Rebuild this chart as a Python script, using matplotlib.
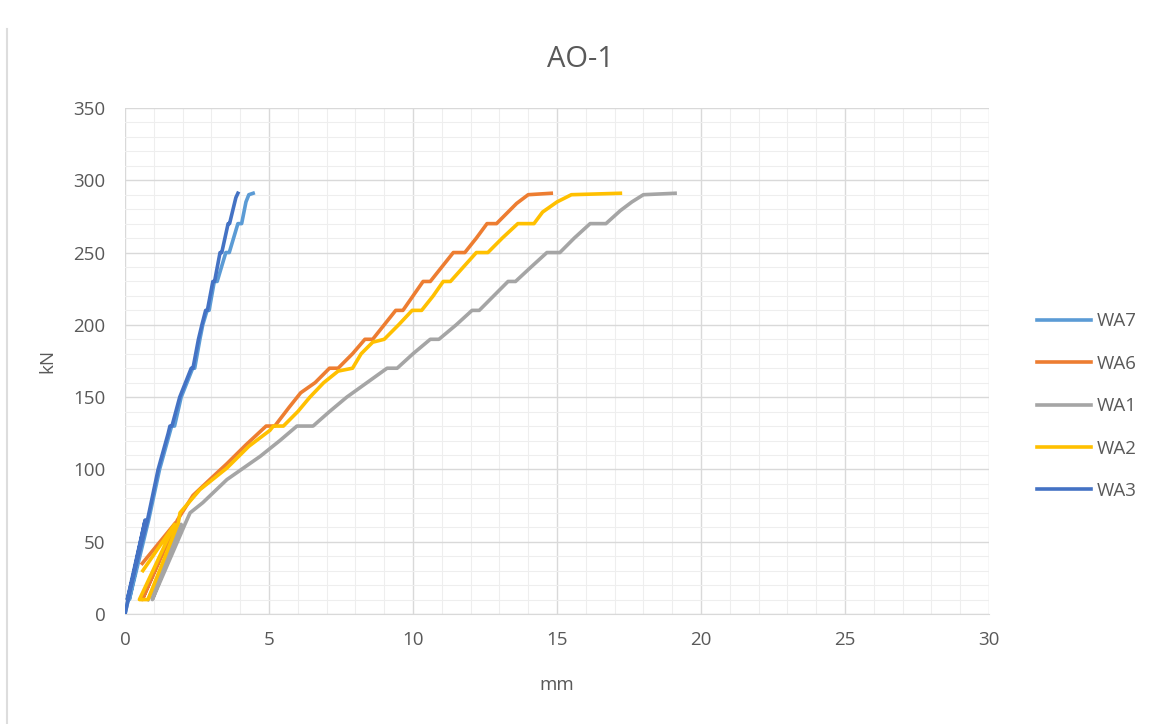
import numpy as np
import matplotlib
matplotlib.use('Agg')
import matplotlib.pyplot as plt
from matplotlib.lines import Line2D

# data (mm, kN)
wa7_x = [0, 0.75, 0.15, 0.82, 1.2, 1.55, 1.62, 1.72, 1.95, 2.35, 2.42, 2.6, 2.7, 2.85, 2.92,
         3.1, 3.2, 3.5, 3.62, 3.92, 4.05, 4.2, 4.3, 4.45]
wa7_y = [0, 65, 10, 65, 100, 125, 130, 130, 150, 170, 170, 190, 200, 210, 210,
         230, 230, 250, 250, 270, 270, 285, 290, 291]

wa6_x = [0.6, 1.75, 0.6, 1.82, 2.36, 3.0, 3.54, 4.2, 4.9, 5.2, 5.7, 6.1, 6.6, 7.1, 7.4, 7.9,
         8.33, 8.6, 9.0, 9.4, 9.65, 10.0, 10.35, 10.6, 11.0, 11.4, 11.8, 12.2, 12.57, 12.9,
         13.3, 13.6, 14.0, 14.8]
wa6_y = [35, 63, 10, 65, 82, 94, 104, 117, 130, 130, 143, 153, 160, 170, 170, 180,
         190, 190, 200, 210, 210, 220, 230, 230, 240, 250, 250, 260, 270, 270,
         278, 284, 290, 291]

wa1_x = [0.8, 1.95, 0.95, 2.08, 2.26, 2.7, 3.54, 4.69, 5.38, 5.97, 6.53, 7.1, 7.7, 8.4, 9.1,
         9.45, 10.0, 10.6, 10.9, 11.5, 12.05, 12.3, 12.8, 13.3, 13.56, 14.1, 14.65, 15.1,
         15.6, 16.15, 16.7, 17.2, 17.6, 18.0, 19.1]
wa1_y = [10, 62, 10, 62, 70, 77, 93, 109, 120, 130, 130, 140, 150, 160, 170,
         170, 180, 190, 190, 200, 210, 210, 220, 230, 230, 240, 250, 250,
         260, 270, 270, 279, 285, 290, 291]

wa2_x = [0.62, 1.72, 0.5, 0.8, 1.85, 1.91, 2.6, 3.54, 4.3, 5.03, 5.15, 5.5, 6.0, 6.42, 6.9,
         7.4, 7.9, 8.2, 8.6, 9.0, 9.5, 9.97, 10.3, 10.7, 11.05, 11.3, 11.75, 12.2, 12.6,
         13.1, 13.64, 14.2, 14.5, 15.0, 15.5, 17.2]
wa2_y = [30, 62, 10, 10, 63, 70, 86, 101, 116, 127, 130, 130, 140, 150, 160,
         168, 170, 180, 188, 190, 200, 210, 210, 220, 230, 230, 240, 250, 250,
         260, 270, 270, 278, 285, 290, 291]

wa3_x = [0, 0.7, 0.08, 0.78, 1.15, 1.5, 1.56, 1.63, 1.9, 2.3, 2.36, 2.55, 2.67, 2.8, 2.86,
         3.05, 3.11, 3.3, 3.36, 3.58, 3.63, 3.85, 3.92]
wa3_y = [0, 65, 10, 65, 100, 125, 130, 130, 150, 170, 170, 190, 200, 210, 210,
         230, 230, 250, 250, 270, 270, 288, 291]

series = [('WA7', wa7_x, wa7_y, '#5B9BD5'),
          ('WA6', wa6_x, wa6_y, '#ED7D31'),
          ('WA1', wa1_x, wa1_y, '#A5A5A5'),
          ('WA2', wa2_x, wa2_y, '#FFC000'),
          ('WA3', wa3_x, wa3_y, '#4472C4')]

plt.rcParams['font.family'] = ['Open Sans', 'DejaVu Sans']
txt = '#595959'

fig = plt.figure(figsize=(11.5, 7.24), dpi=100)
ax = fig.add_axes([0.1087, 0.1519, 0.7513, 0.699])

for name, x, y, c in series:
    ax.plot(x, y, color=c, lw=2.6, label=name, solid_joinstyle='round', zorder=3)

ax.set_xlim(0, 30)
ax.set_ylim(0, 350)
ax.set_xticks(np.arange(0, 31, 5))
ax.set_yticks(np.arange(0, 351, 50))
ax.set_xticks(np.arange(0, 31, 1), minor=True)
ax.set_yticks(np.arange(0, 351, 10), minor=True)
ax.grid(which='major', color='#D9D9D9', lw=1.0, zorder=0)
ax.grid(which='minor', color='#EEEEEE', lw=0.8, zorder=0)
ax.tick_params(which='both', length=0, colors=txt, labelsize=13.5)
ax.tick_params(axis='y', pad=14)
ax.tick_params(axis='x', pad=12)
for s in ['top', 'right', 'left']:
    ax.spines[s].set_visible(False)
ax.spines['bottom'].set_color('#D9D9D9')

ax.set_xlabel('mm', color=txt, fontsize=13.5, labelpad=20)
ax.set_ylabel('kN', color=txt, fontsize=13.5, labelpad=12)
fig.text(0.505, 0.918, 'AO-1', ha='center', va='center', fontsize=21, color=txt)

fig.legend(loc='center left', bbox_to_anchor=(0.887, 0.439), frameon=False,
           fontsize=13.5, labelcolor=txt, handlelength=2.9, handletextpad=0.3,
           labelspacing=1.3)

fig.add_artist(Line2D([0.006, 0.006], [0.0, 0.96], color='#DDDDDD', lw=1.5,
                      transform=fig.transFigure))

fig.savefig('out.png', dpi=100)
